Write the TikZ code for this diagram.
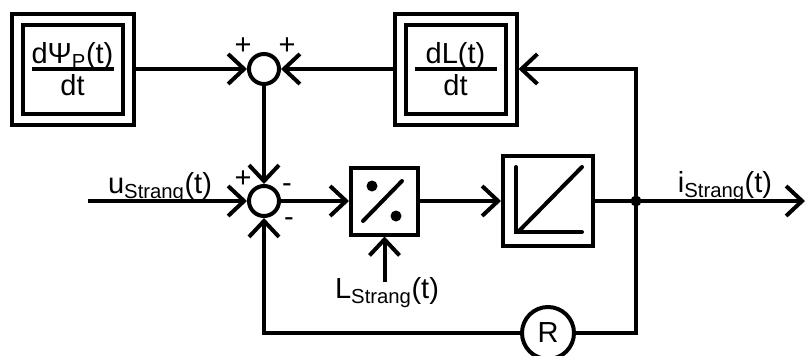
\documentclass[tikz,border=0pt]{standalone}
\usepackage{fontspec}
\setmainfont{Liberation Sans}
\usetikzlibrary{arrows.meta,positioning,calc}

% fraction with a fixed bar for the derivative blocks
\newcommand{\bruch}[2]{#1\\[-23.5pt]\rule{82pt}{3.5pt}\\[-6.5pt]#2}

\begin{document}
\begin{tikzpicture}[x=1pt,y=-1pt,font=\fontsize{29}{31}\selectfont,line width=4pt,
  pfeil/.style={-{Straight Barb[length=16pt,width=30pt]}},
  dbox/.style={draw,double=white,double distance=7pt,outer sep=7.5pt,
    minimum width=111pt,minimum height=100pt,inner sep=0pt,align=center},
  block/.style={draw,inner sep=0pt},
  summe/.style={draw,circle,minimum size=30pt,inner sep=0pt},
  vz/.style={inner sep=0pt}]
  \useasboundingbox (0,0) rectangle (806,356);
  % blocks
  \node[dbox] (psi) at (72.5,69) {\bruch{dΨ\textsubscript{P}(t)}{dt}};
  \node[dbox] (dL) at (455.5,69) {\bruch{dL(t)}{dt}};
  \node[summe] (s1) at (264,69) {};
  \node[summe] (s2) at (264,201) {};
  \node[block,minimum size=67pt] (div) at (384.5,201) {};
  \node[block,minimum size=90pt] (lin) at (548,201) {};
  \node[summe,minimum size=52pt] (R) at (548,333) {R};
  % free ends and branch point
  \coordinate (u) at (88,201);
  \coordinate (j) at (636,201);
  \coordinate (aus) at (805,201);
  \coordinate (Lein) at (384.5,282);
  % signals
  \draw[pfeil] (psi.east) -- (s1.west);
  \draw[pfeil] (dL.west) -- (s1.east);
  \draw[pfeil] (s1) -- (s2);
  \draw[pfeil] (u) -- (s2);
  \draw[pfeil] (s2) -- (div);
  \draw[pfeil] (div) -- (lin);
  \draw[pfeil] (Lein) -- (div);
  \draw (lin) -- (j);
  \draw[pfeil] (j) -- (aus);
  \draw[pfeil] (j) |- (dL.east);
  \draw (j) |- (R.east);
  \draw[pfeil] (R.west) -| (s2.south);
  \fill (j) circle (5.5pt);
  % symbols inside the blocks
  \fill (372,186) circle (5.5pt);
  \fill (396,216) circle (5.5pt);
  \draw[line cap=round] (363,221) -- (402,181);
  \draw[line cap=round] (516,167) -- (516,232) -- (582,232);
  \draw[line cap=round] (518,232) -- (582,167);
  % signs
  \node[vz] (p1) at (243,46) {+};
  \node[vz] (p2) at (287,46) {+};
  \node[vz] (p3) at (243,179) {+};
  \node[vz] (m1) at (287,188) {-};
  \node[vz] (m2) at (289,222) {-};
  % labels
  \node[anchor=base] (ulab) at (160,193) {u\textsubscript{Strang}(t)};
  \node[anchor=base] (ilab) at (725,192) {i\textsubscript{Strang}(t)};
  \node[anchor=base] (Llab) at (387,298) {L\textsubscript{Strang}(t)};
\end{tikzpicture}
\end{document}
